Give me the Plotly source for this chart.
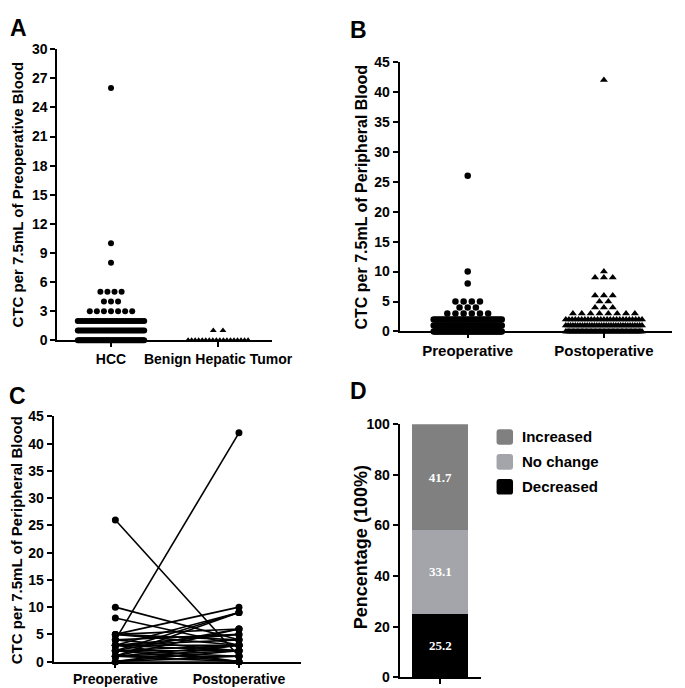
import numpy as np
import plotly.graph_objects as go

W, H = 685, 688
FONT = "Liberation Sans, Arial, sans-serif"

# ---- Panel A: preoperative CTC, HCC vs benign (value levels and dot counts)
a_hcc_levels = [0, 1, 2, 3, 4, 5, 8, 10, 26]
a_hcc_counts = [55, 37, 30, 7, 3, 4, 1, 1, 1]
a_benign_levels = [0, 1]
a_benign_counts = [18, 2]
a_groups = ["HCC", "Benign Hepatic Tumor"]

# ---- Panel B: pre vs post operative CTC
b_pre_levels = [0, 1, 2, 3, 4, 5, 8, 10, 26]
b_pre_counts = [50, 40, 33, 6, 3, 4, 1, 1, 1]
b_post_levels = [0, 1, 2, 3, 4, 5, 6, 9, 10, 42]
b_post_counts = [60, 33, 25, 8, 3, 2, 3, 3, 1, 1]
b_groups = ["Preoperative", "Postoperative"]

# ---- Panel C: paired patients (pre value -> post value)
c_pre = [26, 10, 8, 4, 5, 3, 2, 1, 5, 2, 1, 4, 3, 3, 5, 5, 4, 3, 3, 3,
         0, 0, 0, 0, 1, 1, 1, 1, 2, 2, 2, 2]
c_post = [1, 4, 3, 42, 10, 9, 9, 9, 6, 6, 6, 5, 5, 4, 4, 3, 2, 3, 0, 2,
          0, 1, 2, 3, 0, 1, 2, 3, 0, 1, 2, 3]

# ---- Panel D: change in CTC (%)
d_labels = ["Decreased", "No change", "Increased"]
d_values = [25.2, 33.1, 41.7]
d_colors = ["#000000", "#a3a5aa", "#808080"]


def px_x(p):
    return p / W


def px_y(p):
    return 1 - p / H


def swarm(levels, counts, step, max_width):
    """Spread each row of equal values sideways, centred on 0."""
    xs, ys = [], []
    for v, n in zip(levels, counts):
        gap = step if n < 2 else min(step, max_width / (n - 1))
        offs = (np.arange(n) - (n - 1) / 2) * gap
        xs.extend(offs.tolist())
        ys.extend([v] * n)
    return np.array(xs), ys


def rounded_box(x0, x1, y0, y1, r=3):
    """SVG path (paper coords) of a box with rounded corners, given in pixels."""
    pts = [
        f"M {px_x(x0 + r)},{px_y(y0)}",
        f"L {px_x(x1 - r)},{px_y(y0)}",
        f"Q {px_x(x1)},{px_y(y0)} {px_x(x1)},{px_y(y0 + r)}",
        f"L {px_x(x1)},{px_y(y1 - r)}",
        f"Q {px_x(x1)},{px_y(y1)} {px_x(x1 - r)},{px_y(y1)}",
        f"L {px_x(x0 + r)},{px_y(y1)}",
        f"Q {px_x(x0)},{px_y(y1)} {px_x(x0)},{px_y(y1 - r)}",
        f"L {px_x(x0)},{px_y(y0 + r)}",
        f"Q {px_x(x0)},{px_y(y0)} {px_x(x0 + r)},{px_y(y0)} Z",
    ]
    return " ".join(pts)


fig = go.Figure()

# Panel A
x, y = swarm(a_hcc_levels, a_hcc_counts, 0.066, 0.62)
fig.add_trace(go.Scatter(x=x + 0, y=y, mode="markers", xaxis="x", yaxis="y",
                         marker=dict(symbol="circle", size=6, color="black"),
                         cliponaxis=False))
x, y = swarm(a_benign_levels, a_benign_counts, 0.09, 0.56)
fig.add_trace(go.Scatter(x=x + 1, y=y, mode="markers", xaxis="x", yaxis="y",
                         marker=dict(symbol="triangle-up", size=6, color="black"),
                         cliponaxis=True))

# Panel B
x, y = swarm(b_pre_levels, b_pre_counts, 0.06, 0.5)
fig.add_trace(go.Scatter(x=x + 0, y=y, mode="markers", xaxis="x2", yaxis="y2",
                         marker=dict(symbol="circle", size=6.5, color="black"),
                         cliponaxis=False))
x, y = swarm(b_post_levels, b_post_counts, 0.065, 0.56)
fig.add_trace(go.Scatter(x=x + 1, y=y, mode="markers", xaxis="x2", yaxis="y2",
                         marker=dict(symbol="triangle-up", size=7, color="black"),
                         cliponaxis=False))

# Panel C
cx, cy = [], []
for a, b in zip(c_pre, c_post):
    cx += [0, 1, None]
    cy += [a, b, None]
fig.add_trace(go.Scatter(x=cx, y=cy, mode="lines+markers", xaxis="x3", yaxis="y3",
                         line=dict(color="black", width=1.6),
                         marker=dict(symbol="circle", size=7, color="black"),
                         cliponaxis=False))

# Panel D
for lab, val, col in zip(d_labels, d_values, d_colors):
    fig.add_trace(go.Bar(x=[0], y=[val], name=lab, xaxis="x4", yaxis="y4",
                         marker=dict(color=col, line=dict(width=0)),
                         width=0.69, text=[f"{val:.1f}"], textposition="inside",
                         insidetextanchor="middle", textangle=0,
                         textfont=dict(family="Liberation Serif, Times New Roman, serif",
                                       size=13, color="white", weight="bold")))


def axis_style(tick_size=14, ticklen=5):
    return dict(showline=True, linewidth=2, linecolor="black", ticks="outside",
                ticklen=ticklen, tickwidth=2, tickcolor="black", showgrid=False,
                zeroline=False, fixedrange=True,
                tickfont=dict(family=FONT, size=tick_size, color="black", weight="bold"))


fig.update_layout(
    width=W, height=H,
    margin=dict(l=0, r=0, t=0, b=0),
    paper_bgcolor="white", plot_bgcolor="white",
    showlegend=False, barmode="stack",
    font=dict(family=FONT, color="black"),
    xaxis=dict(domain=[px_x(51), px_x(272)], anchor="y", range=[-0.5, 1.5],
               tickvals=[0, 1], ticktext=a_groups, **axis_style(14)),
    yaxis=dict(domain=[px_y(332), px_y(34)], anchor="x", range=[0, 30],
               dtick=3, **axis_style()),
    xaxis2=dict(domain=[px_x(404), px_x(685)], anchor="y2", range=[-0.5, 1.5],
                tickvals=[0, 1], ticktext=b_groups, **axis_style(15)),
    yaxis2=dict(domain=[px_y(323), px_y(47)], anchor="x2", range=[0, 45],
                dtick=5, **axis_style()),
    xaxis3=dict(domain=[px_x(47), px_x(302)], anchor="y3", range=[-0.5, 1.5],
                tickvals=[0, 1], ticktext=b_groups, **axis_style(14, 4)),
    yaxis3=dict(domain=[px_y(661), px_y(410)], anchor="x3", range=[0, 45],
                dtick=5, **axis_style()),
    xaxis4=dict(domain=[px_x(404), px_x(488)], anchor="y4", range=[-0.5, 0.5],
                tickvals=[0], ticktext=[""], **axis_style()),
    yaxis4=dict(domain=[px_y(677), px_y(418)], anchor="x4", range=[0, 100],
                dtick=20, **axis_style()),
)

# panel letters
for letter, lx, ly in [("A", 11, 12), ("B", 362, 14), ("C", 10, 389), ("D", 362, 384)]:
    fig.add_annotation(text=letter, x=px_x(lx), y=px_y(ly), xref="paper", yref="paper",
                       xanchor="center", yanchor="middle", showarrow=False,
                       font=dict(family=FONT, size=23, color="black", weight="bold"))

# y axis titles
for txt, tx, ty, size in [("CTC per 7.5mL of Preoperative Blood", 10, 183, 15),
                          ("CTC per 7.5mL of Peripheral Blood", 365, 185, 16),
                          ("CTC per 7.5mL of Peripheral Blood", 9, 537, 15),
                          ("Pencentage (100%)", 365, 544, 18)]:
    fig.add_annotation(text=txt, x=px_x(tx), y=px_y(ty), xref="paper", yref="paper",
                       xanchor="center", yanchor="middle", textangle=-90, showarrow=False,
                       font=dict(family=FONT, size=size, color="black", weight="bold"))

# legend for panel D (drawn by hand, top to bottom)
for i, (lab, col) in enumerate(zip(d_labels[::-1], d_colors[::-1])):
    cyy = 431 + i * 25.5
    fig.add_shape(type="path", xref="paper", yref="paper",
                  path=rounded_box(504, 521, cyy - 8, cyy + 8),
                  fillcolor=col, line=dict(width=0))
    fig.add_annotation(text=lab, x=px_x(528), y=px_y(cyy), xref="paper", yref="paper",
                       xanchor="left", yanchor="middle", showarrow=False,
                       font=dict(family=FONT, size=15, color="black", weight="bold"))

fig.write_html("out.html")
